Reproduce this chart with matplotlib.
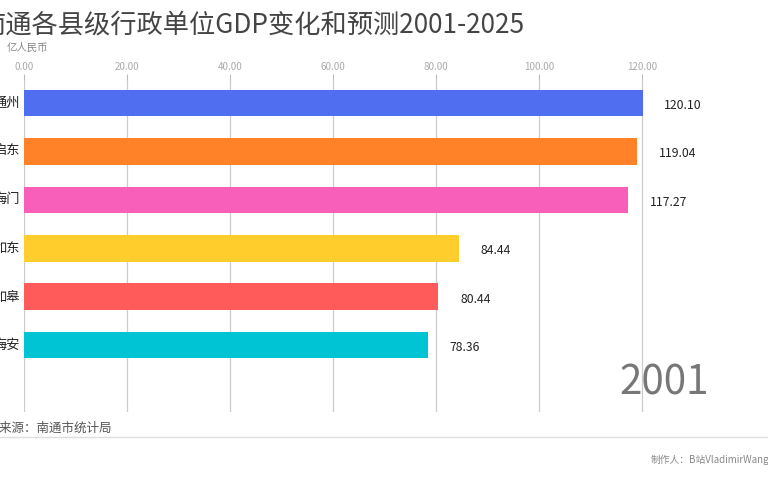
import matplotlib.pyplot as plt

plt.rcParams['font.family'] = ['Noto Sans CJK SC', 'DejaVu Sans']

regions = ['通州', '启东', '海门', '如东', '如皋', '海安']
gdp = [120.10, 119.04, 117.27, 84.44, 80.44, 78.36]
colors = ['#4f6ff0', '#ff8228', '#f85fba', '#ffcd2c', '#ff5b5b', '#00c4d3']
ticks = [0, 20, 40, 60, 80, 100, 120]
year = '2001'

W, H = 768, 480
fig = plt.figure(figsize=(W / 100, H / 100), dpi=100)
fig.patch.set_facecolor('white')

# axes box in pixels: left 24, right 771, top 80, bottom 412
ax = fig.add_axes([24 / W, 1 - 412 / H, (771 - 24) / W, (412 - 80) / H])
ypos = list(range(len(regions)))
ax.barh(ypos, gdp, height=0.55, color=colors, zorder=3)
ax.set_xlim(0, 145)
ax.set_ylim(6.38, -0.475)

ax.set_xticks(ticks)
ax.set_xticklabels([f'{t:.2f}' for t in ticks])
ax.xaxis.tick_top()
ax.tick_params(axis='x', colors='#bbbbbb', labelcolor='#aaaaaa', labelsize=7,
               length=4, width=0.8, pad=2)
ax.grid(axis='x', color='#cccccc', linewidth=0.9, zorder=0)
ax.set_yticks([])
for s in ax.spines.values():
    s.set_visible(False)

for y, v in zip(ypos, gdp):
    ax.text(v + 4.2, y + 0.05, f'{v:.2f}', va='center', ha='left',
            fontsize=8.8, color='#222222')

for y, name in zip(ypos, regions):
    ax.text(-0.8, y, name, va='center', ha='right', fontsize=9.5,
            color='#222222', clip_on=False)

ax.text(115.5, 5.78, year, fontsize=29, color='#777777', ha='left', va='center')

# title, unit, source, author (cropped at the canvas edges like the original frame)
fig.text(-21 / W, 1 - 25 / H, '南通各县级行政单位GDP变化和预测2001-2025',
         fontsize=18.9, color='#444444', va='center', ha='left')
fig.text(7 / W, 1 - 48 / H, '亿人民币', fontsize=7.5, color='#888888',
         va='center', ha='left')
fig.text(-25 / W, 1 - 428 / H, '数据来源：南通市统计局', fontsize=9,
         color='#555555', va='center', ha='left')
fig.add_artist(plt.Line2D([0, 1], [1 - 437 / H, 1 - 437 / H],
                          transform=fig.transFigure, color='#dddddd', lw=1))
fig.text(651 / W, 1 - 460 / H, '制作人：B站VladimirWang', fontsize=7,
         color='#888888', va='center', ha='left')

fig.savefig('out.png', dpi=100)
